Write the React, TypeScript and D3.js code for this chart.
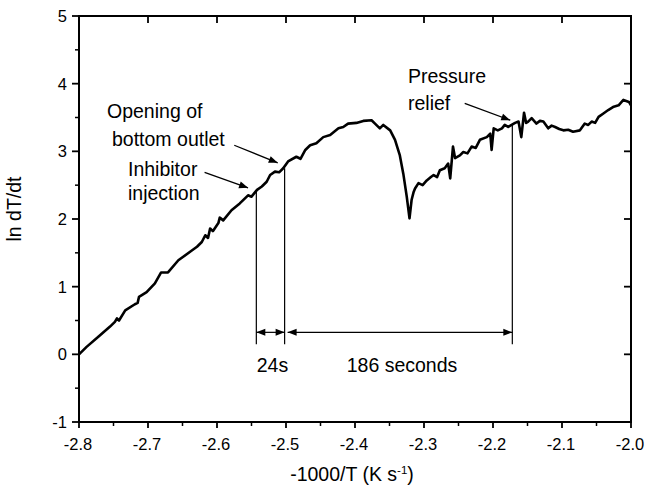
import React from "react";
import * as d3 from "d3";

const xValues = [
  -2.8, -2.789, -2.772, -2.755, -2.748, -2.745, -2.742, -2.733, -2.719, -2.715, -2.713, -2.702, -2.69, -2.681, -2.671,
  -2.656, -2.637, -2.629, -2.622, -2.617, -2.613, -2.61, -2.606, -2.598, -2.596, -2.591, -2.579, -2.567, -2.555,
  -2.55, -2.542, -2.535, -2.528, -2.523, -2.516, -2.51, -2.504, -2.497, -2.485, -2.479, -2.472, -2.465, -2.456,
  -2.446, -2.436, -2.424, -2.417, -2.41, -2.398, -2.388, -2.376, -2.371, -2.364, -2.359, -2.349, -2.342, -2.335,
  -2.33, -2.325, -2.321, -2.318, -2.315, -2.313, -2.308, -2.302, -2.296, -2.29, -2.286, -2.281, -2.277, -2.27,
  -2.265, -2.262, -2.258, -2.255, -2.248, -2.243, -2.237, -2.231, -2.225, -2.219, -2.209, -2.204, -2.202, -2.199,
  -2.193, -2.187, -2.183, -2.178, -2.173, -2.168, -2.163, -2.159, -2.155, -2.152, -2.149, -2.144, -2.137, -2.132,
  -2.127, -2.12, -2.115, -2.11, -2.104, -2.098, -2.091, -2.084, -2.074, -2.067, -2.062, -2.057, -2.052, -2.047,
  -2.04, -2.033, -2.025, -2.018, -2.011, -2.003, -2.0,
];
const yValues = [
  0, 0.11, 0.26, 0.41, 0.48, 0.53, 0.5, 0.65, 0.74, 0.76, 0.85, 0.92, 1.05, 1.21, 1.21,
  1.39, 1.53, 1.59, 1.66, 1.76, 1.72, 1.86, 1.82, 1.94, 2.02, 1.98, 2.13, 2.23, 2.35,
  2.33, 2.43, 2.48, 2.55, 2.65, 2.7, 2.69, 2.75, 2.85, 2.92, 2.89, 3.02, 3.09, 3.12,
  3.21, 3.24, 3.34, 3.36, 3.41, 3.42, 3.45, 3.46, 3.41, 3.34, 3.39, 3.31, 3.17, 2.94,
  2.67, 2.33, 2.01, 2.28, 2.4, 2.45, 2.53, 2.5, 2.57, 2.62, 2.65, 2.62, 2.72, 2.75,
  2.82, 2.6, 3.07, 2.9, 2.94, 2.99, 2.97, 3.07, 3.05, 3.17, 3.21, 3.26, 3.02, 3.34,
  3.31, 3.34, 3.39, 3.36, 3.39, 3.42, 3.44, 3.21, 3.57, 3.42, 3.44, 3.49, 3.41, 3.45,
  3.44, 3.34, 3.38, 3.36, 3.33, 3.31, 3.32, 3.29, 3.31, 3.41, 3.39, 3.44, 3.42, 3.51,
  3.56, 3.61, 3.66, 3.68, 3.76, 3.73, 3.68,
];

const xTicks = [-2.8, -2.7, -2.6, -2.5, -2.4, -2.3, -2.2, -2.1, -2.0];
const yTicks = [-1, 0, 1, 2, 3, 4, 5];
const xMinor = [-2.75, -2.65, -2.55, -2.45, -2.35, -2.25, -2.15, -2.05];
const yMinor = [-0.5, 0.5, 1.5, 2.5, 3.5, 4.5];

// event markers: [x, top y]
const markerX = [-2.543, -2.502, -2.172];
const markerTop = [2.42, 2.75, 3.4];
const markerBottom = 0.15;
const dimY = 0.325;

const W = 645;
const H = 490;
const L = 79, R = 631, T = 16, B = 422;
const FONT = "'Liberation Sans', Arial, Helvetica, sans-serif";
const TICK_FS = 16.5;
const LABEL_FS = 19.5;

export default function App() {
  const x = d3.scaleLinear().domain([-2.8, -2.0]).range([L, R]);
  const y = d3.scaleLinear().domain([-1, 5]).range([B, T]);
  const data = xValues.map((v, i) => [v, yValues[i]] as [number, number]);
  const line = d3.line<[number, number]>().x((d) => x(d[0])).y((d) => y(d[1]));

  const fmt = (v: number) => (v === -2 ? "-2.0" : String(v));

  const arrowHead = (tx: number, ty: number, fx: number, fy: number, len = 9, half = 3.5) => {
    const a = Math.atan2(ty - fy, tx - fx);
    const bx = tx - len * Math.cos(a);
    const by = ty - len * Math.sin(a);
    const px = -Math.sin(a) * half;
    const py = Math.cos(a) * half;
    return `M${tx},${ty}L${bx + px},${by + py}L${bx - px},${by - py}Z`;
  };

  const arrow = (x1: number, y1: number, x2: number, y2: number, key: string) => (
    <g key={key}>
      <line x1={x1} y1={y1} x2={x2} y2={y2} stroke="#000" strokeWidth={1.3} />
      <path d={arrowHead(x2, y2, x1, y1)} fill="#000" />
    </g>
  );

  const dy = y(dimY);
  const xa = x(markerX[0]);
  const xb = x(markerX[1]);
  const xc = x(markerX[2]);

  return (
    <svg width={W} height={H} style={{ position: "absolute", left: 0, top: 0, background: "#fff" }} fontFamily={FONT}>
      <rect x={0} y={0} width={W} height={H} fill="#fff" />
      {/* frame */}
      <rect x={L} y={T} width={R - L} height={B - T} fill="none" stroke="#000" strokeWidth={2} />
      {/* bottom ticks */}
      {xTicks.map((t) => (
        <g key={"xt" + t}>
          <line x1={x(t)} x2={x(t)} y1={B} y2={B + 6} stroke="#000" strokeWidth={1.8} />
          <line x1={x(t)} x2={x(t)} y1={T} y2={T + 7} stroke="#000" strokeWidth={1.8} />
          <text x={x(t) - 1} y={449.5} textAnchor="middle" fontSize={TICK_FS}>{fmt(t)}</text>
        </g>
      ))}
      {xMinor.map((t) => (
        <line key={"xm" + t} x1={x(t)} x2={x(t)} y1={B} y2={B + 4} stroke="#000" strokeWidth={1.5} />
      ))}
      {yTicks.map((t) => (
        <g key={"yt" + t}>
          <line x1={L - 7} x2={L} y1={y(t)} y2={y(t)} stroke="#000" strokeWidth={1.8} />
          <line x1={R - 7} x2={R} y1={y(t)} y2={y(t)} stroke="#000" strokeWidth={1.8} />
          <text x={67} y={y(t) + 6} textAnchor="end" fontSize={TICK_FS}>{t}</text>
        </g>
      ))}
      {yMinor.map((t) => (
        <line key={"ym" + t} x1={L - 4} x2={L} y1={y(t)} y2={y(t)} stroke="#000" strokeWidth={1.5} />
      ))}
      {/* axis titles */}
      <text x={352} y={481} textAnchor="middle" fontSize={LABEL_FS}>
        -1000/T (K s<tspan dy={-7} fontSize={11.5}>-1</tspan><tspan dy={7}>)</tspan>
      </text>
      <text transform={`translate(21,${209}) rotate(-90)`} textAnchor="middle" fontSize={LABEL_FS}>ln dT/dt</text>

      {/* curve */}
      <path d={line(data) || ""} fill="none" stroke="#000" strokeWidth={2.6} strokeLinejoin="round" />

      {/* marker lines */}
      {markerX.map((m, i) => (
        <line key={"mk" + i} x1={x(m)} x2={x(m)} y1={y(markerTop[i])} y2={y(markerBottom)} stroke="#000" strokeWidth={1.2} />
      ))}

      {/* dimension arrows */}
      <line x1={xa} x2={xb} y1={dy} y2={dy} stroke="#000" strokeWidth={1.2} />
      <path d={arrowHead(xa, dy, xb, dy)} fill="#000" />
      <path d={arrowHead(xb, dy, xa, dy)} fill="#000" />
      <line x1={xb + 3} x2={xc} y1={dy} y2={dy} stroke="#000" strokeWidth={1.2} />
      <path d={arrowHead(xb + 3, dy, xc, dy)} fill="#000" />
      <path d={arrowHead(xc, dy, xb, dy)} fill="#000" />
      <text x={(xa + xb) / 2 + 2} y={372} textAnchor="middle" fontSize={LABEL_FS}>24s</text>
      <text x={402} y={372} textAnchor="middle" fontSize={LABEL_FS}>186 seconds</text>

      {/* annotations */}
      <text x={107} y={118} fontSize={LABEL_FS}>Opening of</text>
      <text x={112} y={146} fontSize={LABEL_FS}>bottom outlet</text>
      <text x={128} y={176} fontSize={LABEL_FS}>Inhibitor</text>
      <text x={128} y={200} fontSize={LABEL_FS}>injection</text>
      <text x={408} y={83} fontSize={LABEL_FS}>Pressure</text>
      <text x={408} y={110} fontSize={LABEL_FS}>relief</text>
      {arrow(x(-2.575), y(3.09), x(-2.512), y(2.83), "a1")}
      {arrow(x(-2.618), y(2.69), x(-2.555), y(2.46), "a2")}
      {arrow(x(-2.241), y(3.71), x(-2.175), y(3.46), "a3")}
    </svg>
  );
}
